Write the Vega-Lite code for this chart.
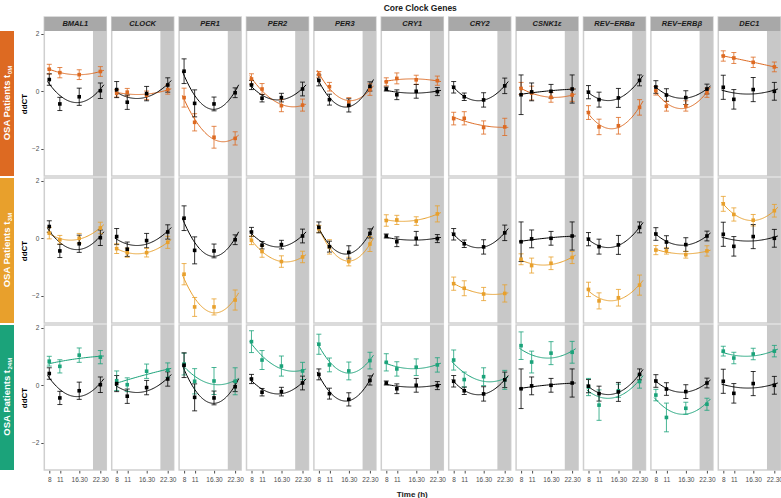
{
"$schema":"https://vega.github.io/schema/vega-lite/v6.json",
"padding":{"left":0,"right":0,"top":3,"bottom":0},
"config":{"font":"Liberation Sans","view":{"stroke":"#cfcfcf","strokeWidth":1.5},"axis":{"grid":false,"labelOverlap":false}},
"title":{"text":"Core Clock Genes","fontSize":8.5,"fontWeight":"bold","anchor":"middle","dx":29,"offset":4,"color":"#1a1a1a"},
"datasets":{"d":[
{"g":"BMAL1","r":"0M","t":8,"v":0.77,"e":0.17},{"g":"BMAL1","r":"0M","t":11,"v":0.65,"e":0.18},{"g":"BMAL1","r":"0M","t":16.5,"v":0.58,"e":0.17},{"g":"BMAL1","r":"0M","t":22.5,"v":0.69,"e":0.17},
{"g":"CLOCK","r":"0M","t":8,"v":-0.07,"e":0.13},{"g":"CLOCK","r":"0M","t":11,"v":-0.03,"e":0.13},{"g":"CLOCK","r":"0M","t":16.5,"v":-0.14,"e":0.15},{"g":"CLOCK","r":"0M","t":22.5,"v":0.06,"e":0.16},
{"g":"PER1","r":"0M","t":8,"v":-0.22,"e":0.33},{"g":"PER1","r":"0M","t":11,"v":-1.08,"e":0.3},{"g":"PER1","r":"0M","t":16.5,"v":-1.6,"e":0.38},{"g":"PER1","r":"0M","t":22.5,"v":-1.64,"e":0.23},
{"g":"PER2","r":"0M","t":8,"v":0.43,"e":0.18},{"g":"PER2","r":"0M","t":11,"v":0.08,"e":0.19},{"g":"PER2","r":"0M","t":16.5,"v":-0.5,"e":0.21},{"g":"PER2","r":"0M","t":22.5,"v":-0.48,"e":0.21},
{"g":"PER3","r":"0M","t":8,"v":0.59,"e":0.1},{"g":"PER3","r":"0M","t":11,"v":0.16,"e":0.15},{"g":"PER3","r":"0M","t":16.5,"v":-0.37,"e":0.15},{"g":"PER3","r":"0M","t":22.5,"v":0.06,"e":0.2},
{"g":"CRY1","r":"0M","t":8,"v":0.33,"e":0.14},{"g":"CRY1","r":"0M","t":11,"v":0.45,"e":0.19},{"g":"CRY1","r":"0M","t":16.5,"v":0.4,"e":0.16},{"g":"CRY1","r":"0M","t":22.5,"v":0.37,"e":0.16},
{"g":"CRY2","r":"0M","t":8,"v":-0.95,"e":0.22},{"g":"CRY2","r":"0M","t":11,"v":-0.94,"e":0.23},{"g":"CRY2","r":"0M","t":16.5,"v":-1.26,"e":0.23},{"g":"CRY2","r":"0M","t":22.5,"v":-1.24,"e":0.3},
{"g":"CSNK1ε","r":"0M","t":8,"v":0.1,"e":0.21},{"g":"CSNK1ε","r":"0M","t":11,"v":-0.06,"e":0.24},{"g":"CSNK1ε","r":"0M","t":16.5,"v":-0.21,"e":0.17},{"g":"CSNK1ε","r":"0M","t":22.5,"v":-0.13,"e":0.22},
{"g":"REV−ERBα","r":"0M","t":8,"v":-0.74,"e":0.24},{"g":"REV−ERBα","r":"0M","t":11,"v":-1.24,"e":0.27},{"g":"REV−ERBα","r":"0M","t":16.5,"v":-1.2,"e":0.29},{"g":"REV−ERBα","r":"0M","t":22.5,"v":-0.56,"e":0.27},
{"g":"REV−ERBβ","r":"0M","t":8,"v":0.02,"e":0.15},{"g":"REV−ERBβ","r":"0M","t":11,"v":-0.52,"e":0.17},{"g":"REV−ERBβ","r":"0M","t":16.5,"v":-0.51,"e":0.18},{"g":"REV−ERBβ","r":"0M","t":22.5,"v":-0.05,"e":0.16},
{"g":"DEC1","r":"0M","t":8,"v":1.23,"e":0.18},{"g":"DEC1","r":"0M","t":11,"v":1.16,"e":0.19},{"g":"DEC1","r":"0M","t":16.5,"v":1.01,"e":0.18},{"g":"DEC1","r":"0M","t":22.5,"v":0.85,"e":0.17},
{"g":"BMAL1","r":"3M","t":8,"v":0.18,"e":0.2},{"g":"BMAL1","r":"3M","t":11,"v":-0.05,"e":0.15},{"g":"BMAL1","r":"3M","t":16.5,"v":0,"e":0.17},{"g":"BMAL1","r":"3M","t":22.5,"v":0.36,"e":0.2},
{"g":"CLOCK","r":"3M","t":8,"v":-0.36,"e":0.17},{"g":"CLOCK","r":"3M","t":11,"v":-0.5,"e":0.16},{"g":"CLOCK","r":"3M","t":16.5,"v":-0.5,"e":0.15},{"g":"CLOCK","r":"3M","t":22.5,"v":-0.14,"e":0.21},
{"g":"PER1","r":"3M","t":8,"v":-1.25,"e":0.37},{"g":"PER1","r":"3M","t":11,"v":-2.39,"e":0.33},{"g":"PER1","r":"3M","t":16.5,"v":-2.39,"e":0.28},{"g":"PER1","r":"3M","t":22.5,"v":-2.15,"e":0.35},
{"g":"PER2","r":"3M","t":8,"v":-0.07,"e":0.15},{"g":"PER2","r":"3M","t":11,"v":-0.46,"e":0.2},{"g":"PER2","r":"3M","t":16.5,"v":-0.81,"e":0.2},{"g":"PER2","r":"3M","t":22.5,"v":-0.65,"e":0.2},
{"g":"PER3","r":"3M","t":8,"v":0.33,"e":0.12},{"g":"PER3","r":"3M","t":11,"v":-0.3,"e":0.25},{"g":"PER3","r":"3M","t":16.5,"v":-0.81,"e":0.15},{"g":"PER3","r":"3M","t":22.5,"v":-0.2,"e":0.26},
{"g":"CRY1","r":"3M","t":8,"v":0.62,"e":0.2},{"g":"CRY1","r":"3M","t":11,"v":0.64,"e":0.16},{"g":"CRY1","r":"3M","t":16.5,"v":0.6,"e":0.15},{"g":"CRY1","r":"3M","t":22.5,"v":0.85,"e":0.28},
{"g":"CRY2","r":"3M","t":8,"v":-1.58,"e":0.23},{"g":"CRY2","r":"3M","t":11,"v":-1.74,"e":0.26},{"g":"CRY2","r":"3M","t":16.5,"v":-1.94,"e":0.23},{"g":"CRY2","r":"3M","t":22.5,"v":-1.92,"e":0.3},
{"g":"CSNK1ε","r":"3M","t":8,"v":-0.73,"e":0.19},{"g":"CSNK1ε","r":"3M","t":11,"v":-0.95,"e":0.26},{"g":"CSNK1ε","r":"3M","t":16.5,"v":-0.87,"e":0.22},{"g":"CSNK1ε","r":"3M","t":22.5,"v":-0.67,"e":0.21},
{"g":"REV−ERBα","r":"3M","t":8,"v":-1.78,"e":0.25},{"g":"REV−ERBα","r":"3M","t":11,"v":-2.18,"e":0.28},{"g":"REV−ERBα","r":"3M","t":16.5,"v":-2.07,"e":0.29},{"g":"REV−ERBα","r":"3M","t":22.5,"v":-1.63,"e":0.35},
{"g":"REV−ERBβ","r":"3M","t":8,"v":-0.41,"e":0.16},{"g":"REV−ERBβ","r":"3M","t":11,"v":-0.44,"e":0.11},{"g":"REV−ERBβ","r":"3M","t":16.5,"v":-0.57,"e":0.12},{"g":"REV−ERBβ","r":"3M","t":22.5,"v":-0.44,"e":0.18},
{"g":"DEC1","r":"3M","t":8,"v":1.2,"e":0.26},{"g":"DEC1","r":"3M","t":11,"v":0.83,"e":0.23},{"g":"DEC1","r":"3M","t":16.5,"v":0.63,"e":0.2},{"g":"DEC1","r":"3M","t":22.5,"v":0.96,"e":0.22},
{"g":"BMAL1","r":"24M","t":8,"v":0.84,"e":0.17},{"g":"BMAL1","r":"24M","t":11,"v":0.66,"e":0.23},{"g":"BMAL1","r":"24M","t":16.5,"v":1.05,"e":0.25},{"g":"BMAL1","r":"24M","t":22.5,"v":0.98,"e":0.23},
{"g":"CLOCK","r":"24M","t":8,"v":0.16,"e":0.34},{"g":"CLOCK","r":"24M","t":11,"v":0.02,"e":0.24},{"g":"CLOCK","r":"24M","t":16.5,"v":0.49,"e":0.25},{"g":"CLOCK","r":"24M","t":22.5,"v":0.53,"e":0.25},
{"g":"PER1","r":"24M","t":8,"v":0.74,"e":0.38},{"g":"PER1","r":"24M","t":11,"v":0.14,"e":0.44},{"g":"PER1","r":"24M","t":16.5,"v":0.15,"e":0.47},{"g":"PER1","r":"24M","t":22.5,"v":0.14,"e":0.47},
{"g":"PER2","r":"24M","t":8,"v":1.52,"e":0.38},{"g":"PER2","r":"24M","t":11,"v":0.88,"e":0.33},{"g":"PER2","r":"24M","t":16.5,"v":0.67,"e":0.35},{"g":"PER2","r":"24M","t":22.5,"v":0.5,"e":0.3},
{"g":"PER3","r":"24M","t":8,"v":1.43,"e":0.35},{"g":"PER3","r":"24M","t":11,"v":0.71,"e":0.24},{"g":"PER3","r":"24M","t":16.5,"v":0.5,"e":0.31},{"g":"PER3","r":"24M","t":22.5,"v":0.86,"e":0.29},
{"g":"CRY1","r":"24M","t":8,"v":0.8,"e":0.3},{"g":"CRY1","r":"24M","t":11,"v":0.57,"e":0.25},{"g":"CRY1","r":"24M","t":16.5,"v":0.63,"e":0.29},{"g":"CRY1","r":"24M","t":22.5,"v":0.71,"e":0.25},
{"g":"CRY2","r":"24M","t":8,"v":0.88,"e":0.35},{"g":"CRY2","r":"24M","t":11,"v":0.2,"e":0.26},{"g":"CRY2","r":"24M","t":16.5,"v":0.3,"e":0.31},{"g":"CRY2","r":"24M","t":22.5,"v":0.19,"e":0.33},
{"g":"CSNK1ε","r":"24M","t":8,"v":1.38,"e":0.48},{"g":"CSNK1ε","r":"24M","t":11,"v":0.81,"e":0.38},{"g":"CSNK1ε","r":"24M","t":16.5,"v":1.12,"e":0.4},{"g":"CSNK1ε","r":"24M","t":22.5,"v":1.15,"e":0.38},
{"g":"REV−ERBα","r":"24M","t":8,"v":-0.06,"e":0.3},{"g":"REV−ERBα","r":"24M","t":11,"v":-0.69,"e":0.53},{"g":"REV−ERBα","r":"24M","t":16.5,"v":-0.19,"e":0.23},{"g":"REV−ERBα","r":"24M","t":22.5,"v":0.13,"e":0.23},
{"g":"REV−ERBβ","r":"24M","t":8,"v":-0.34,"e":0.2},{"g":"REV−ERBβ","r":"24M","t":11,"v":-1.12,"e":0.5},{"g":"REV−ERBβ","r":"24M","t":16.5,"v":-0.8,"e":0.21},{"g":"REV−ERBβ","r":"24M","t":22.5,"v":-0.66,"e":0.21},
{"g":"DEC1","r":"24M","t":8,"v":1.19,"e":0.17},{"g":"DEC1","r":"24M","t":11,"v":0.95,"e":0.2},{"g":"DEC1","r":"24M","t":16.5,"v":1.09,"e":0.2},{"g":"DEC1","r":"24M","t":22.5,"v":1.19,"e":0.2},
{"g":"BMAL1","r":"c","t":8,"v":0.41,"e":0.2},{"g":"BMAL1","r":"c","t":11,"v":-0.44,"e":0.23},{"g":"BMAL1","r":"c","t":16.5,"v":-0.19,"e":0.3},{"g":"BMAL1","r":"c","t":22.5,"v":0.02,"e":0.27},
{"g":"CLOCK","r":"c","t":8,"v":0.06,"e":0.28},{"g":"CLOCK","r":"c","t":11,"v":-0.38,"e":0.25},{"g":"CLOCK","r":"c","t":16.5,"v":-0.08,"e":0.25},{"g":"CLOCK","r":"c","t":22.5,"v":0.22,"e":0.25},
{"g":"PER1","r":"c","t":8,"v":0.7,"e":0.43},{"g":"PER1","r":"c","t":11,"v":-0.42,"e":0.47},{"g":"PER1","r":"c","t":16.5,"v":-0.44,"e":0.24},{"g":"PER1","r":"c","t":22.5,"v":-0.05,"e":0.17},
{"g":"PER2","r":"c","t":8,"v":0.22,"e":0.16},{"g":"PER2","r":"c","t":11,"v":-0.24,"e":0.13},{"g":"PER2","r":"c","t":16.5,"v":-0.22,"e":0.15},{"g":"PER2","r":"c","t":22.5,"v":0.08,"e":0.24},
{"g":"PER3","r":"c","t":8,"v":0.38,"e":0.19},{"g":"PER3","r":"c","t":11,"v":-0.29,"e":0.19},{"g":"PER3","r":"c","t":16.5,"v":-0.49,"e":0.23},{"g":"PER3","r":"c","t":22.5,"v":0.17,"e":0.16},
{"g":"CRY1","r":"c","t":8,"v":0.08,"e":0.07},{"g":"CRY1","r":"c","t":11,"v":-0.12,"e":0.17},{"g":"CRY1","r":"c","t":16.5,"v":0,"e":0.24},{"g":"CRY1","r":"c","t":22.5,"v":-0.01,"e":0.14},
{"g":"CRY2","r":"c","t":8,"v":0.14,"e":0.2},{"g":"CRY2","r":"c","t":11,"v":-0.19,"e":0.13},{"g":"CRY2","r":"c","t":16.5,"v":-0.3,"e":0.25},{"g":"CRY2","r":"c","t":22.5,"v":0.19,"e":0.27},
{"g":"CSNK1ε","r":"c","t":8,"v":-0.12,"e":0.69},{"g":"CSNK1ε","r":"c","t":11,"v":-0.02,"e":0.31},{"g":"CSNK1ε","r":"c","t":16.5,"v":0,"e":0.24},{"g":"CSNK1ε","r":"c","t":22.5,"v":0.08,"e":0.49},
{"g":"REV−ERBα","r":"c","t":8,"v":-0.03,"e":0.23},{"g":"REV−ERBα","r":"c","t":11,"v":-0.29,"e":0.26},{"g":"REV−ERBα","r":"c","t":16.5,"v":-0.23,"e":0.33},{"g":"REV−ERBα","r":"c","t":22.5,"v":0.38,"e":0.19},
{"g":"REV−ERBβ","r":"c","t":8,"v":0.15,"e":0.22},{"g":"REV−ERBβ","r":"c","t":11,"v":-0.13,"e":0.22},{"g":"REV−ERBβ","r":"c","t":16.5,"v":-0.22,"e":0.24},{"g":"REV−ERBβ","r":"c","t":22.5,"v":0.08,"e":0.17},
{"g":"DEC1","r":"c","t":8,"v":0.14,"e":0.42},{"g":"DEC1","r":"c","t":11,"v":-0.28,"e":0.34},{"g":"DEC1","r":"c","t":16.5,"v":0.06,"e":0.42},{"g":"DEC1","r":"c","t":22.5,"v":0,"e":0.31}
]},
"spacing":0,
"resolve":{"scale":{"x":"independent","y":"independent"}},
"vconcat":[
{"hconcat":[
 {"width":14,"height":159,"view":{"stroke":null},"data":{"values":[{"lab":"OSA Patients t","sub":"0M"}]},
  "layer":[
   {"mark":{"type":"rect","color":"#DD6A22"},"encoding":{"x":{"datum":0,"type":"quantitative","scale":{"domain":[0,1]},"axis":null},"x2":{"datum":1},"y":{"datum":-2.95,"type":"quantitative","scale":{"domain":[-2.95,2.588],"nice":false,"zero":false},"axis":null},"y2":{"datum":2.1}}},
   {"mark":{"type":"text","angle":270,"align":"right","baseline":"middle","dx":28.8,"color":"white","fontWeight":"bold","fontSize":9.5},"encoding":{"x":{"datum":0.5,"type":"quantitative"},"y":{"datum":-0.425,"type":"quantitative"},"text":{"field":"lab"}}},
   {"mark":{"type":"text","angle":270,"align":"left","baseline":"middle","dx":29.3,"dy":2.5,"color":"white","fontWeight":"bold","fontSize":6},"encoding":{"x":{"datum":0.5,"type":"quantitative"},"y":{"datum":-0.425,"type":"quantitative"},"text":{"field":"sub"}}}
  ]},
 {"data":{"name":"d"},"transform":[{"filter":"datum.r == 'c' || datum.r == '0M'"}],
  "facet":{"column":{"field":"g","type":"nominal","sort":["BMAL1","CLOCK","PER1","PER2","PER3","CRY1","CRY2","CSNK1ε","REV−ERBα","REV−ERBβ","DEC1"],"header":null}},
  "spacing":5.4,"bounds":"flush",
  "spec":{"width":62,"height":159,"layer":[
   {"transform":[{"filter":"datum.r == 'c' && datum.t == 8"}],"mark":{"type":"rect","color":"#c8c8c8"},
    "encoding":{"x":{"datum":20.41,"type":"quantitative","scale":{"domain":[6.59,24.19],"nice":false,"zero":false},"axis":null},"x2":{"datum":24.19},
     "y":{"datum":-2.95,"type":"quantitative","title":"ddCT","scale":{"domain":[-2.95,2.588],"nice":false,"zero":false},"axis":{"title":"ddCT","titleY":86.5,"values":[-2,-1,0,1,2],"domain":false,"grid":false,"ticks":true,"tickColor":"#4d4d4d","tickSize":3.5,"labelFontSize":6.5,"labelColor":"#4d4d4d","labelPadding":2,"titleFontSize":8,"titleFontWeight":"bold","titleColor":"#000000","titlePadding":2.5}},"y2":{"datum":2.1}}},
   {"transform":[{"filter":"datum.r == 'c' && datum.t == 8"}],"mark":{"type":"rect","color":"#a8a8a8"},
    "encoding":{"x":{"datum":6.59,"type":"quantitative","axis":null},"x2":{"datum":24.19},"y":{"datum":2.1,"type":"quantitative","title":"ddCT"},"y2":{"datum":2.588}}},
   {"transform":[{"filter":"datum.r == 'c' && datum.t == 8"}],"mark":{"type":"text","fontStyle":"italic","fontWeight":"bold","fontSize":7.5,"color":"#1a1a1a","baseline":"middle"},
    "encoding":{"x":{"datum":15.39,"type":"quantitative","axis":null},"y":{"datum":2.344,"type":"quantitative","title":"ddCT"},"text":{"field":"g"}}},
   {"transform":[{"regression":"v","on":"t","groupby":["g","r"],"method":"poly","order":2,"extent":[7.5,23.5]}],"mark":{"type":"line","strokeWidth":1},
    "encoding":{"x":{"field":"t","type":"quantitative","axis":null},"y":{"field":"v","type":"quantitative","title":"ddCT"},"color":{"field":"r","type":"nominal","scale":{"domain":["c","0M","3M","24M"],"range":["#000000","#DD6A22","#E8A02C","#1BA37A"]},"legend":null}}},
   {"mark":{"type":"errorbar","ticks":true,"size":5,"thickness":1,"opacity":0.8},
    "encoding":{"x":{"field":"t","type":"quantitative","axis":null},"y":{"field":"v","type":"quantitative","title":"ddCT"},"yError":{"field":"e"},"color":{"field":"r","type":"nominal","legend":null}}},
   {"mark":{"type":"point","filled":true,"shape":"square","size":13,"opacity":1},
    "encoding":{"x":{"field":"t","type":"quantitative","axis":null},"y":{"field":"v","type":"quantitative","title":"ddCT"},"color":{"field":"r","type":"nominal","legend":null}}}
  ]}}
 ],"spacing":30.3,"bounds":"flush","resolve":{"scale":{"x":"independent","y":"independent"}}},
{"hconcat":[
 {"width":14,"height":145,"view":{"stroke":null},"data":{"values":[{"lab":"OSA Patients t","sub":"3M"}]},
  "layer":[
   {"mark":{"type":"rect","color":"#E8A02C"},"encoding":{"x":{"datum":0,"type":"quantitative","scale":{"domain":[0,1]},"axis":null},"x2":{"datum":1},"y":{"datum":-2.95,"type":"quantitative","scale":{"domain":[-2.95,2.1],"nice":false,"zero":false},"axis":null},"y2":{"datum":2.1}}},
   {"mark":{"type":"text","angle":270,"align":"right","baseline":"middle","dx":28.8,"color":"white","fontWeight":"bold","fontSize":9.5},"encoding":{"x":{"datum":0.5,"type":"quantitative"},"y":{"datum":-0.425,"type":"quantitative"},"text":{"field":"lab"}}},
   {"mark":{"type":"text","angle":270,"align":"left","baseline":"middle","dx":29.3,"dy":2.5,"color":"white","fontWeight":"bold","fontSize":6},"encoding":{"x":{"datum":0.5,"type":"quantitative"},"y":{"datum":-0.425,"type":"quantitative"},"text":{"field":"sub"}}}
  ]},
 {"data":{"name":"d"},"transform":[{"filter":"datum.r == 'c' || datum.r == '3M'"}],
  "facet":{"column":{"field":"g","type":"nominal","sort":["BMAL1","CLOCK","PER1","PER2","PER3","CRY1","CRY2","CSNK1ε","REV−ERBα","REV−ERBβ","DEC1"],"header":null}},
  "spacing":5.4,"bounds":"flush",
  "spec":{"width":62,"height":145,"layer":[
   {"transform":[{"filter":"datum.r == 'c' && datum.t == 8"}],"mark":{"type":"rect","color":"#c8c8c8"},
    "encoding":{"x":{"datum":20.41,"type":"quantitative","scale":{"domain":[6.59,24.19],"nice":false,"zero":false},"axis":null},"x2":{"datum":24.19},
     "y":{"datum":-2.95,"type":"quantitative","title":"ddCT","scale":{"domain":[-2.95,2.1],"nice":false,"zero":false},"axis":{"title":"ddCT","values":[-2,-1,0,1,2],"domain":false,"grid":false,"ticks":true,"tickColor":"#4d4d4d","tickSize":3.5,"labelFontSize":6.5,"labelColor":"#4d4d4d","labelPadding":2,"titleFontSize":8,"titleFontWeight":"bold","titleColor":"#000000","titlePadding":2.5}},"y2":{"datum":2.1}}},
   {"transform":[{"regression":"v","on":"t","groupby":["g","r"],"method":"poly","order":2,"extent":[7.5,23.5]}],"mark":{"type":"line","strokeWidth":1},
    "encoding":{"x":{"field":"t","type":"quantitative","axis":null},"y":{"field":"v","type":"quantitative","title":"ddCT"},"color":{"field":"r","type":"nominal","legend":null}}},
   {"mark":{"type":"errorbar","ticks":true,"size":5,"thickness":1,"opacity":0.8},
    "encoding":{"x":{"field":"t","type":"quantitative","axis":null},"y":{"field":"v","type":"quantitative","title":"ddCT"},"yError":{"field":"e"},"color":{"field":"r","type":"nominal","legend":null}}},
   {"mark":{"type":"point","filled":true,"shape":"square","size":13,"opacity":1},
    "encoding":{"x":{"field":"t","type":"quantitative","axis":null},"y":{"field":"v","type":"quantitative","title":"ddCT"},"color":{"field":"r","type":"nominal","legend":null}}}
  ]}}
 ],"spacing":30.3,"bounds":"flush","resolve":{"scale":{"x":"independent","y":"independent"}}},
{"hconcat":[
 {"width":14,"height":145,"view":{"stroke":null},"data":{"values":[{"lab":"OSA Patients t","sub":"24M"}]},
  "layer":[
   {"mark":{"type":"rect","color":"#1BA37A"},"encoding":{"x":{"datum":0,"type":"quantitative","scale":{"domain":[0,1]},"axis":null},"x2":{"datum":1},"y":{"datum":-2.95,"type":"quantitative","scale":{"domain":[-2.95,2.1],"nice":false,"zero":false},"axis":null},"y2":{"datum":2.1}}},
   {"mark":{"type":"text","angle":270,"align":"right","baseline":"middle","dx":27.5,"color":"white","fontWeight":"bold","fontSize":9.5},"encoding":{"x":{"datum":0.5,"type":"quantitative"},"y":{"datum":-0.425,"type":"quantitative"},"text":{"field":"lab"}}},
   {"mark":{"type":"text","angle":270,"align":"left","baseline":"middle","dx":28,"dy":2.5,"color":"white","fontWeight":"bold","fontSize":6},"encoding":{"x":{"datum":0.5,"type":"quantitative"},"y":{"datum":-0.425,"type":"quantitative"},"text":{"field":"sub"}}}
  ]},
 {"data":{"name":"d"},"transform":[{"filter":"datum.r == 'c' || datum.r == '24M'"}],
  "facet":{"column":{"field":"g","type":"nominal","title":"Time (h)","sort":["BMAL1","CLOCK","PER1","PER2","PER3","CRY1","CRY2","CSNK1ε","REV−ERBα","REV−ERBβ","DEC1"],"header":{"labels":false,"titleOrient":"bottom","titleFontSize":8,"titleFontWeight":"bold","titleColor":"#1a1a1a","titlePadding":-2}}},
  "spacing":5.4,"bounds":"flush",
  "spec":{"width":62,"height":145,"layer":[
   {"transform":[{"filter":"datum.r == 'c' && datum.t == 8"}],"mark":{"type":"rect","color":"#c8c8c8"},
    "encoding":{"x":{"datum":20.41,"type":"quantitative","title":null,"scale":{"domain":[6.59,24.19],"nice":false,"zero":false},"axis":{"title":null,"values":[8,11,16.5,22.5],"labelExpr":"datum.value == 16.5 ? '16.30' : datum.value == 22.5 ? '22.30' : datum.label","domain":false,"grid":false,"ticks":true,"tickSize":3,"tickColor":"#4d4d4d","labelFontSize":6.5,"labelColor":"#4d4d4d","labelPadding":3.5,"labelAngle":0,"labelFlush":false,"labelOverlap":false,"labelBound":false}},"x2":{"datum":24.19},
     "y":{"datum":-2.95,"type":"quantitative","title":"ddCT","scale":{"domain":[-2.95,2.1],"nice":false,"zero":false},"axis":{"title":"ddCT","values":[-2,-1,0,1,2],"domain":false,"grid":false,"ticks":true,"tickColor":"#4d4d4d","tickSize":3.5,"labelFontSize":6.5,"labelColor":"#4d4d4d","labelPadding":2,"titleFontSize":8,"titleFontWeight":"bold","titleColor":"#000000","titlePadding":2.5}},"y2":{"datum":2.1}}},
   {"transform":[{"regression":"v","on":"t","groupby":["g","r"],"method":"poly","order":2,"extent":[7.5,23.5]}],"mark":{"type":"line","strokeWidth":1},
    "encoding":{"x":{"field":"t","type":"quantitative","title":null,"axis":{"title":null,"values":[8,11,16.5,22.5],"labelExpr":"datum.value == 16.5 ? '16.30' : datum.value == 22.5 ? '22.30' : datum.label","domain":false,"grid":false,"ticks":true,"tickSize":3,"tickColor":"#4d4d4d","labelFontSize":6.5,"labelColor":"#4d4d4d","labelPadding":3.5,"labelAngle":0,"labelFlush":false,"labelOverlap":false,"labelBound":false}},"y":{"field":"v","type":"quantitative","title":"ddCT"},"color":{"field":"r","type":"nominal","legend":null}}},
   {"mark":{"type":"errorbar","ticks":true,"size":5,"thickness":1,"opacity":0.8},
    "encoding":{"x":{"field":"t","type":"quantitative","title":null,"axis":{"title":null,"values":[8,11,16.5,22.5],"labelExpr":"datum.value == 16.5 ? '16.30' : datum.value == 22.5 ? '22.30' : datum.label","domain":false,"grid":false,"ticks":true,"tickSize":3,"tickColor":"#4d4d4d","labelFontSize":6.5,"labelColor":"#4d4d4d","labelPadding":3.5,"labelAngle":0,"labelFlush":false,"labelOverlap":false,"labelBound":false}},"y":{"field":"v","type":"quantitative","title":"ddCT"},"yError":{"field":"e"},"color":{"field":"r","type":"nominal","legend":null}}},
   {"mark":{"type":"point","filled":true,"shape":"square","size":13,"opacity":1},
    "encoding":{"x":{"field":"t","type":"quantitative","title":null,"axis":{"title":null,"values":[8,11,16.5,22.5],"labelExpr":"datum.value == 16.5 ? '16.30' : datum.value == 22.5 ? '22.30' : datum.label","domain":false,"grid":false,"ticks":true,"tickSize":3,"tickColor":"#4d4d4d","labelFontSize":6.5,"labelColor":"#4d4d4d","labelPadding":3.5,"labelAngle":0,"labelFlush":false,"labelOverlap":false,"labelBound":false}},"y":{"field":"v","type":"quantitative","title":"ddCT"},"color":{"field":"r","type":"nominal","legend":null}}}
  ]}}
 ],"spacing":30.3,"bounds":"flush","resolve":{"scale":{"x":"independent","y":"independent"}}}
]
}
